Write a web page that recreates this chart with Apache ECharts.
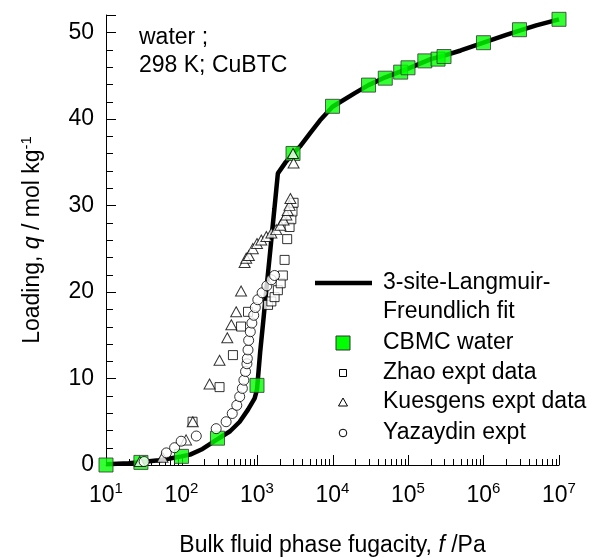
<!DOCTYPE html>
<html>
<head>
<meta charset="utf-8">
<script src="https://cdn.jsdelivr.net/npm/echarts@6/dist/echarts.min.js"></script>
<style>html,body{margin:0;padding:0;background:#fff}#c{width:600px;height:558px}</style>
</head>
<body>
<div id="c"></div>
<script>
// ---- data (fugacity in Pa, loading in mol/kg) ----
var fitCurve = [[10,0.1],[20,0.2],[30,0.35],[50,0.55],[70,0.75],[100,1.0],[130,1.2],[190,1.85],[290,2.9],[440,3.9],[590,5.0],[760,6.4],[930,7.7],[1000,8.7],[1100,13.0],[1200,16.3],[1300,19.4],[1400,22.2],[1500,24.8],[1600,27.3],[1700,29.6],[1800,31.8],[1890,33.7],[2400,35.0],[3000,36.0],[3700,36.8],[5000,38.3],[6800,39.8],[10000,41.4],[20000,43.0],[30000,43.9],[50000,44.8],[100000,45.8],[200000,46.9],[300000,47.3],[500000,47.9],[1000000,48.8],[2000000,49.7],[3000000,50.2],[5000000,50.8],[10000000,51.5]];
var cbmcWater = [[10,0],[29,0.3],[100,1.0],[300,3.1],[1000,9.2],[3000,36.0],[10000,41.45],[30000,43.9],[50000,44.7],[80000,45.4],[100000,45.9],[167000,46.7],[250000,46.9],[300000,47.2],[1000000,48.8],[3000000,50.3],[10000000,51.5]];
var zhaoExpt = [[140,5.0],[319,9.0],[480,12.7],[615,16.0],[760,17.7],[1400,18.5],[1550,18.9],[1710,19.4],[1890,20.2],[2060,21.0],[2200,21.9],[2320,23.7],[2510,26.1],[2700,27.5],[2850,28.4],[2950,29.3],[3050,30.3]];
var kuesgensExpt = [[28,0.4],[56,0.9],[115,2.9],[141,5.0],[235,9.35],[319,12.1],[404,14.7],[457,16.2],[530,17.7],[615,20.1],[685,23.4],[720,23.9],[780,24.2],[880,25.0],[1000,25.6],[1140,26.0],[1330,26.4],[1550,26.8],[1800,27.2],[2040,27.7],[2250,28.3],[2450,28.9],[2550,29.4],[2700,30.0],[2770,30.8],[3050,34.9],[3000,36.0]];
var yazaydinExpt = [[32,0.4],[63,1.4],[81,2.0],[99,2.75],[157,3.35],[288,4.2],[390,5.0],[470,5.95],[540,6.9],[590,7.9],[640,8.85],[670,9.8],[705,10.8],[735,11.7],[745,12.3],[760,13.3],[775,14.4],[815,15.4],[855,16.4],[905,17.3],[950,18.2],[1025,19.1],[1170,19.9],[1350,20.7],[1550,21.4],[1710,21.9]];
var xMajorTicks = [10,100,1000,10000,100000,1000000,10000000];
var xMinorTicks = [];
[10,100,1000,10000,100000,1000000].forEach(function(d){ for(var k=2;k<=9;k++) xMinorTicks.push(d*k); });
var yLabels = [0,10,20,30,40,50];
var yMajorTicks = [0,10,20,30,40,50,52];
var yMinorTicks = [2,4,6,8,12,14,16,18,22,24,26,28,32,34,36,38,42,44,46,48];
var seriesNames = ['3-site-Langmuir-Freundlich fit','CBMC water','Zhao expt data','Kuesgens expt data','Yazaydin expt'];

var FONT = '"Liberation Sans", Arial, sans-serif';
var FS = 23;
var chart = echarts.init(document.getElementById('c'), null, {renderer:'canvas'});
var openMarker = {color:'#fff', borderColor:'#000', borderWidth:1};

chart.setOption({
  animation:false,
  backgroundColor:'#fff',
  grid:{left:106, right:41, top:15, bottom:93, containLabel:false, outerBoundsMode:'none'},
  xAxis:{
    type:'log', logBase:10, min:10, max:10000000,
    axisLine:{show:true, lineStyle:{color:'#000', width:1}},
    axisTick:{show:false},
    axisLabel:{customValues:xMajorTicks, margin:16,
      formatter:function(v){ return '{b|10}{s|' + Math.round(Math.log10(v)) + '}'; },
      rich:{b:{fontSize:FS, fontFamily:FONT, color:'#000', lineHeight:30},
            s:{fontSize:15, fontFamily:FONT, color:'#000', verticalAlign:'top', lineHeight:16}}},
    splitLine:{show:false},
    name:'{n|Bulk fluid phase fugacity, }{i|f}{n| /Pa}', nameLocation:'middle', nameGap:69,
    nameTextStyle:{rich:{n:{fontSize:FS, fontFamily:FONT, color:'#000'}, i:{fontSize:FS, fontFamily:FONT, fontStyle:'italic', color:'#000'}}}
  },
  yAxis:{
    type:'value', min:0, max:52, interval:10,
    axisLine:{show:true, lineStyle:{color:'#000', width:1}},
    axisTick:{show:false},
    axisLabel:{customValues:yLabels, margin:12, fontSize:FS, fontFamily:FONT, color:'#000'},
    splitLine:{show:false},
    name:'{n|Loading, }{i|q}{n| / mol kg}{s|-1}', nameLocation:'middle', nameGap:59,
    nameTextStyle:{rich:{n:{fontSize:FS, fontFamily:FONT, color:'#000', lineHeight:28},
      i:{fontSize:FS, fontFamily:FONT, fontStyle:'italic', color:'#000', lineHeight:28},
      s:{fontSize:15, fontFamily:FONT, color:'#000', verticalAlign:'top', lineHeight:16}}}
  },
  series:[
    {name:seriesNames[0], type:'line', data:fitCurve, showSymbol:false, symbol:'none', lineStyle:{color:'#000', width:4.5}, clip:false, z:2},
    {name:seriesNames[1], type:'scatter', data:cbmcWater, symbol:'rect', symbolSize:14, itemStyle:{color:'#00ff00', borderColor:'#333', borderWidth:1}, clip:false, z:3},
    {name:seriesNames[2], type:'scatter', data:zhaoExpt, symbol:'rect', symbolSize:9, itemStyle:openMarker, clip:false, z:4},
    {name:seriesNames[3], type:'scatter', data:kuesgensExpt, symbol:'triangle', symbolSize:[11,10], itemStyle:openMarker, clip:false, z:5},
    {name:seriesNames[4], type:'scatter', data:yazaydinExpt, symbol:'circle', symbolSize:10, itemStyle:openMarker, clip:false, z:6}
  ]
});

// ---- tick marks positioned through the chart's own axis scales ----
function toPx(v){ return chart.convertToPixel({xAxisIndex:0, yAxisIndex:0}, v); }
function txt(x, y, s){
  return {type:'text', x:x, y:y, z:10, style:{text:s, font:FS + 'px ' + FONT, fill:'#000', verticalAlign:'middle'}};
}
var g = [];
function xTick(v, len){
  var p = toPx([v, 0]); var x = Math.round(p[0]) + 0.5, y = Math.round(p[1]);
  g.push({type:'line', z:1, silent:true, shape:{x1:x, y1:y, x2:x, y2:y - len}, style:{stroke:'#000', lineWidth:1}});
}
function yTick(v, len){
  var p = toPx([10, v]); var x = Math.round(p[0]), y = Math.round(p[1]) + 0.5;
  g.push({type:'line', z:1, silent:true, shape:{x1:x, y1:y, x2:x + len, y2:y}, style:{stroke:'#000', lineWidth:1}});
}
xMajorTicks.forEach(function(v){ xTick(v, 10); });
xMinorTicks.forEach(function(v){ xTick(v, 6); });
yMajorTicks.forEach(function(v){ yTick(v, 10); });
yMinorTicks.forEach(function(v){ yTick(v, 7); });

g.push({type:'text', x:139, y:24, z:10, style:{text:'water ;\n298 K; CuBTC', font:FS + 'px ' + FONT, fill:'#000', lineHeight:28}});
g.push({type:'line', z:10, shape:{x1:315, y1:283, x2:372, y2:283}, style:{stroke:'#000', lineWidth:4.5}});
g.push(txt(383, 283, '3-site-Langmuir-'));
g.push(txt(383, 312, 'Freundlich fit'));
g.push({type:'rect', z:10, shape:{x:336, y:336, width:14, height:14}, style:{fill:'#00ff00', stroke:'#333', lineWidth:1}});
g.push(txt(383, 343, seriesNames[1]));
g.push({type:'rect', z:10, shape:{x:339.5, y:369.5, width:7, height:7}, style:{fill:'#fff', stroke:'#000', lineWidth:1}});
g.push(txt(383, 373, seriesNames[2]));
g.push({type:'polygon', z:10, shape:{points:[[343,398],[347.5,406],[338.5,406]]}, style:{fill:'#fff', stroke:'#000', lineWidth:1}});
g.push(txt(383, 402, seriesNames[3]));
g.push({type:'circle', z:10, shape:{cx:343, cy:433, r:3.8}, style:{fill:'#fff', stroke:'#000', lineWidth:1}});
g.push(txt(383, 433, seriesNames[4]));
chart.setOption({graphic:g});
</script>
</body>
</html>
